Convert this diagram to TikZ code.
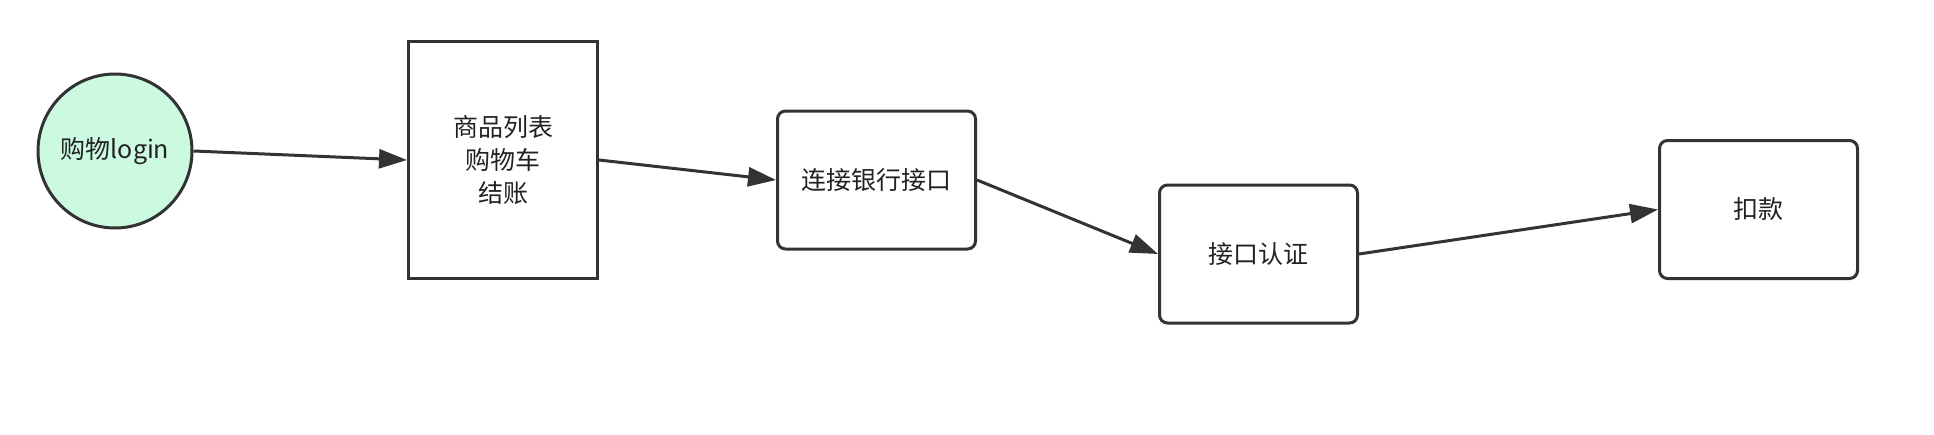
\documentclass[tikz,border=0pt]{standalone}
\usepackage{fontspec}
\setmainfont{Noto Sans CJK SC}
\usetikzlibrary{arrows.meta}
\definecolor{mint}{RGB}{204,250,225}
\definecolor{edge}{RGB}{51,51,51}
\definecolor{ink}{RGB}{34,34,34}

\begin{document}
\begin{tikzpicture}[x=1pt, y=-1pt, line width=3pt,
    box/.style={draw=edge, text=ink, align=center, font=\fontsize{25}{33}\selectfont},
    proc/.style={box, rounded corners=8pt, minimum width=198pt, minimum height=138pt},
    flow/.style={draw=edge, -{Triangle[length=28pt, width=19pt]}}]
    \useasboundingbox (0,0) rectangle (1934,434);

    \node[box, circle, fill=mint, minimum size=154pt] (login) at (115,151) {购物login};
    \node[box, minimum width=189pt, minimum height=237pt] (shop) at (503,160) {商品列表\\购物车\\结账};
    \node[proc] (bank) at (876.5,180) {连接银行接口};
    \node[proc] (auth) at (1258.5,254) {接口认证};
    \node[proc] (pay) at (1758.5,209.5) {扣款};

    \draw[flow] (login.east) -- (shop.west);
    \draw[flow] (shop.east) -- (bank.west);
    \draw[flow] (bank.east) -- (auth.west);
    \draw[flow] (auth.east) -- (pay.west);
\end{tikzpicture}
\end{document}
